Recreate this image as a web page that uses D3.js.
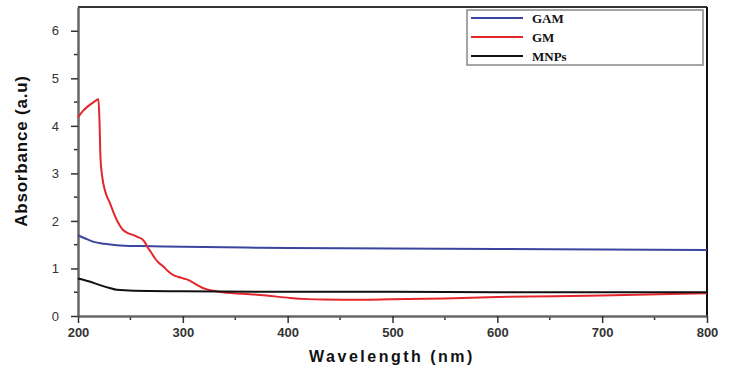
<!DOCTYPE html>
<html><head><meta charset="utf-8">
<script src="https://cdn.jsdelivr.net/npm/d3@7"></script>
<style>body{margin:0;background:#fff}svg{display:block}</style>
</head><body>
<svg id="c" width="731" height="368"></svg>
<script>
const seriesNames = ["GAM", "GM", "MNPs"];
const seriesColors = ["#3a45a0", "#e3262b", "#111111"];
const gamX = [200, 207, 215, 225, 237, 260, 281, 320, 360, 400, 500, 600, 700, 800];
const gamY = [1.70, 1.63, 1.56, 1.52, 1.49, 1.47, 1.46, 1.45, 1.44, 1.43, 1.42, 1.41, 1.40, 1.39];
const gmX = [200, 205, 210, 215, 219.5, 220.5, 221.5, 223, 226, 230.6, 234, 237, 240, 243, 248, 253, 257, 261, 263.5, 266, 270, 273.5, 277, 281.5, 286, 291, 296, 300.6, 305, 308.6, 313, 318, 323, 329, 338, 348, 364, 380, 402, 420, 434, 460, 498, 550, 600, 700, 800];
const gmY = [4.18, 4.32, 4.42, 4.50, 4.56, 4.1, 3.30, 2.95, 2.62, 2.37, 2.17, 2.02, 1.90, 1.81, 1.74, 1.70, 1.66, 1.62, 1.56, 1.46, 1.33, 1.21, 1.12, 1.04, 0.94, 0.86, 0.82, 0.79, 0.76, 0.72, 0.66, 0.60, 0.56, 0.53, 0.50, 0.48, 0.46, 0.43, 0.38, 0.355, 0.345, 0.34, 0.35, 0.37, 0.40, 0.43, 0.48];
const mnpX = [200, 210, 221, 230, 237, 253, 300, 400, 500, 600, 700, 800];
const mnpY = [0.79, 0.73, 0.65, 0.59, 0.55, 0.53, 0.52, 0.51, 0.51, 0.50, 0.50, 0.50];
const xTicks = [200, 300, 400, 500, 600, 700, 800];
const yTicks = [0, 1, 2, 3, 4, 5, 6];

const svg = d3.select("#c");
const L = 78, R = 707, T = 7, B = 316;
const x = d3.scaleLinear().domain([200, 800]).range([L, R]);
const y = d3.scaleLinear().domain([0, 6.5]).range([B, T]);

// frame
svg.append("line").attr("x1", L).attr("x2", R).attr("y1", T).attr("y2", T).attr("stroke", "#333").attr("stroke-width", 2);
svg.append("line").attr("x1", R).attr("x2", R).attr("y1", T).attr("y2", B).attr("stroke", "#111").attr("stroke-width", 2);

// minor ticks
const minorX = d3.range(250, 800, 100);
const minorY = d3.range(0.5, 6.5, 1);
svg.append("g").selectAll("line").data(minorX).join("line")
  .attr("x1", d => x(d)).attr("x2", d => x(d)).attr("y1", B).attr("y2", B + 4)
  .attr("stroke", "#333").attr("stroke-width", 1.5);
svg.append("g").selectAll("line").data(minorY).join("line")
  .attr("x1", L - 4).attr("x2", L).attr("y1", d => y(d)).attr("y2", d => y(d))
  .attr("stroke", "#333").attr("stroke-width", 1.5);

const xAxis = svg.append("g").attr("transform", `translate(0,${B})`)
  .call(d3.axisBottom(x).tickValues(xTicks).tickSize(7).tickPadding(5).tickSizeOuter(0));
const yAxis = svg.append("g").attr("transform", `translate(${L},0)`)
  .call(d3.axisLeft(y).tickValues(yTicks).tickFormat(d3.format("d")).tickSize(7).tickPadding(12).tickSizeOuter(0));
[xAxis, yAxis].forEach(a => {
  a.select(".domain").attr("stroke", "#666").attr("stroke-width", 2.5);
  a.selectAll(".tick line").attr("stroke", "#333").attr("stroke-width", 1.5);
  a.selectAll("text").attr("fill", "#333").attr("font-family", "Liberation Sans, Arial, sans-serif").attr("font-size", 13);
});
xAxis.selectAll("text").attr("font-weight", "bold");

// lines
const series = [[gamX, gamY], [gmX, gmY], [mnpX, mnpY]];
const line = d3.line().x(d => x(d[0])).y(d => y(d[1])).curve(d3.curveMonotoneX);
series.forEach((s, i) => {
  const pts = s[0].map((v, j) => [v, s[1][j]]);
  svg.append("path").datum(pts).attr("d", line).attr("fill", "none")
    .attr("stroke", seriesColors[i]).attr("stroke-width", 2);
});

// axis titles
svg.append("text").attr("x", 392).attr("y", 362).attr("text-anchor", "middle")
  .attr("font-family", "Liberation Sans, Arial, sans-serif").attr("font-weight", "bold")
  .attr("font-size", 16).attr("letter-spacing", 2.5).attr("fill", "#111").text("Wavelength (nm)");
svg.append("text").attr("transform", "translate(27,151) rotate(-90)").attr("text-anchor", "middle")
  .attr("font-family", "Liberation Sans, Arial, sans-serif").attr("font-weight", "bold")
  .attr("font-size", 17).attr("letter-spacing", 0.8).attr("fill", "#111").text("Absorbance (a.u)");

// legend
const lg = svg.append("g");
lg.append("rect").attr("x", 467).attr("y", 10).attr("width", 236).attr("height", 55)
  .attr("fill", "#fff").attr("stroke", "#888").attr("stroke-width", 1.5);
seriesNames.forEach((n, i) => {
  const yy = 18 + i * 19;
  lg.append("line").attr("x1", 471).attr("x2", 523).attr("y1", yy).attr("y2", yy)
    .attr("stroke", seriesColors[i]).attr("stroke-width", 2);
  lg.append("text").attr("x", 532).attr("y", yy + 5).attr("font-family", "Liberation Serif, Times New Roman, serif")
    .attr("font-weight", "bold").attr("font-size", 13).attr("fill", "#111").text(n);
});
</script>
</body></html>
